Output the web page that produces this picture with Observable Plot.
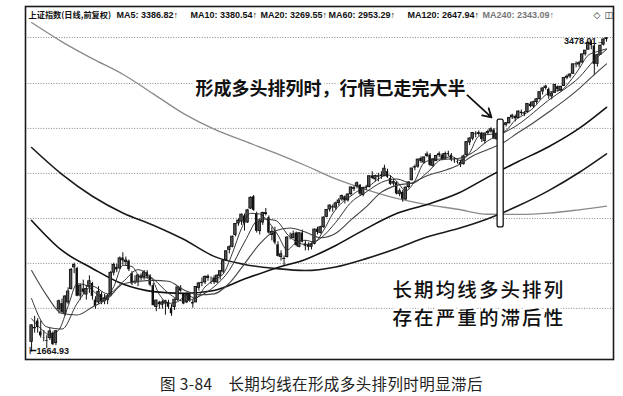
<!DOCTYPE html>
<html><head><meta charset="utf-8">
<script src="https://cdn.jsdelivr.net/npm/d3@7"></script>
<script src="https://cdn.jsdelivr.net/npm/@observablehq/plot@0.6"></script>
<style>
body{margin:0;background:#fff;}
#chart{width:623px;}
#chart svg{display:block;}
#chart g[font-size="19.5"] text{letter-spacing:2.1px;}
.caption{font-family:"Noto Sans CJK SC",sans-serif;font-size:15.5px;letter-spacing:0.4px;color:#222;margin-top:11px;padding-left:160px;line-height:20px;white-space:nowrap;}
</style></head><body>
<div id="chart"></div>
<div class="caption">图 3-84　长期均线在形成多头排列时明显滞后</div>
<script>
// 上证指数 日线（前复权）, 2008-10-28 … 2009-08-04, one entry per trading day
const open = [
1705,1760,1790,1745,
1720,1710,1720,1740,1700, 1840,1865,1820,1870,1930, 2030,2025,1900,1930,1905, 1940,1955,1880,1870,1905,
1875,1880,1900,2005,2030, 2025,2075,2055,2060,2000, 1960,1960,1990,1985,2005, 1990,1945,1850,1870,1860, 1865,1870,1845,
1850,1880,1935,1905,1870, 1905,1870,1870,1935,1960, 1960,1980,1975,1980,1960,
1990,2010,2065,2115,2130, 2190,2250,2260,2290,2255, 2330,2395,2300,2210,2255, 2300,2280,2190,2210,2140,
2080,2070,2080,2185,2175, 2200,2130,2200,2145,2140, 2130,2145,2220,2200,2230, 2285,2325,2340,2335,2360, 2380,2395,
2375,2410,2440,2455,2460, 2405,2450,2450,2515,2495, 2510,2520,2515,2540,2500, 2470,2475,2410,2420,2380, 2450,
2490,2565,2570,2620,2595, 2635,2640,2575,2605,2640, 2640,2620,2650,2640,2610, 2600,2595,2585,
2640,2720,2745,2775,2775, 2780,2730,2780,2790,2800, 2740,2775,2790,2835,2845, 2885,2890,2880,2920,2910, 2920,2975,
2960,2990,3010,3065,3090, 3080,3030,3055,3100,3075, 3105,3165,3175,3195,3270, 3265,3280,3345,3380,3440, 3410,3270,3340,
3420,3465];
const high = [
1775,1810,1800,1790,
1750,1730,1760,1745,1750, 1880,1885,1900,1935,2025, 2050,2030,1950,1970,1945, 1990,1960,1895,1940,1915,
1905,1905,2010,2050,2045, 2080,2100.8,2080,2065,2010, 1990,1995,2000,2015,2015, 1995,1955,1880,1875,1880, 1880,1880,1860,
1885,1940,1945,1910,1910, 1915,1880,1940,1960,1980, 1990,1995,1985,1990,1995,
2015,2065,2110,2135,2185, 2250,2275,2300,2300,2325, 2395,2402,2310,2270,2310, 2330,2290,2230,2230,2155,
2110,2085,2180,2200,2210, 2205,2200,2215,2160,2150, 2150,2220,2230,2235,2285, 2325,2350,2350,2365,2385, 2405,2400,
2410,2450,2455,2480,2465, 2450,2460,2515,2540,2520, 2530,2540,2579,2555,2515, 2495,2480,2440,2430,2450, 2480,
2560,2580,2615,2630,2630, 2660,2650,2620,2640,2660, 2650,2660,2665,2650,2625, 2615,2610,2640,
2725,2750,2785,2790,2795, 2785,2780,2800,2815,2810, 2780,2800,2840,2850,2885, 2905,2900,2930,2935,2925, 2980,2990,
2995,3015,3060,3090,3110, 3090,3060,3115,3105,3100, 3165,3185,3195,3270,3285, 3290,3345,3375,3440,3455, 3425,3345,3415,
3465,3478.01];
const low = [
1664.93,1740,1740,1720,
1705,1678,1710,1690,1690, 1820,1820,1810,1860,1925, 2000,1895,1880,1905,1880, 1910,1880,1840,1860,1860,
1860,1860,1895,1990,2005, 2020,2040,2035,2010,1945, 1950,1940,1965,1970,1975, 1940,1855,1830,1840,1840, 1815,1840,1810,
1835,1875,1915,1860,1865, 1870,1845,1870,1920,1940, 1950,1965,1950,1950,1955,
1970,2000,2060,2095,2125, 2180,2235,2240,2210,2250, 2325,2315,2200,2190,2240, 2290,2195,2160,2140,2080,
2060,2037,2075,2165,2170, 2130,2125,2150,2110,2110, 2115,2140,2190,2195,2225, 2280,2310,2310,2320,2345, 2370,2355,
2365,2400,2425,2440,2400, 2395,2430,2445,2495,2480, 2480,2495,2510,2500,2460, 2455,2405,2395,2365,2375, 2440,
2485,2545,2560,2590,2585, 2625,2570,2565,2600,2625, 2605,2610,2630,2600,2590, 2585,2565,2580,
2635,2700,2730,2750,2760, 2720,2710,2770,2780,2740, 2735,2765,2785,2820,2840, 2870,2855,2875,2895,2890, 2915,2950,
2945,2975,3005,3040,3075, 3010,3005,3050,3060,3060, 3100,3150,3160,3190,3240, 3240,3275,3330,3375,3380, 3180,3245,3335,
3410,3440];
const close = [
1772,1762,1763,1729,
1719,1707,1747,1694,1748, 1875,1827,1896,1918,2018, 2041,1897,1945,1915,1930, 1965,1897,1852,1917,1871,
1888,1897,2004,2042,2018, 2073,2061,2063,2019,1953, 1963,1992,1979,2006,1985, 1947,1856,1878,1860,1870, 1875,1849,1821,
1882,1937,1920,1863,1904, 1878,1863,1939,1955,1954, 1985,1986,1975,1959,1991,
2012,2060,2108,2128,2181, 2247,2265,2297,2248,2320, 2389,2320,2209,2261,2306, 2305,2200,2206,2150,2083,
2093,2071,2177,2184,2193, 2137,2199,2153,2133,2128, 2140,2218,2203,2230,2281, 2322,2346,2333,2358,2374, 2399,2373,
2408,2448,2444,2472,2410, 2444,2444,2513,2500,2514, 2513,2511,2558,2507,2466, 2479,2411,2426,2381,2447, 2477,
2559,2567,2613,2601,2626, 2645,2578,2614,2635,2646, 2614,2648,2644,2610,2606, 2597,2578,2632,
2722,2745,2781,2770,2780, 2739,2777,2787,2805,2742, 2776,2791,2834,2845,2880, 2896,2875,2924,2911,2913, 2977,2959,
2989,3009,3060,3087,3100, 3033,3050,3113,3077,3099, 3163,3173,3189,3266,3262, 3275,3343,3372,3435,3413, 3266,3337,3412,
3462,3471];

// moving averages at the listed trading-day positions
const ma5Days = [0,3,6,9,12,15,18,21,24,27,30,33,36,39,42,45,48,51,54,57,60,63,66,69,72,75,78,81,84,87,90,93,96,99,102,105,108,111,114,117,120,123,126,129,132,135,138,141,144,147,150,153,156,159,162,165,168,171,174,177,180,183,186,189];
const ma5 = [1800,1759,1733,1754,1853,1954,1946,1912,1885,1940,2040,2034,1981,1982,1905,1866,1873,1901,1889,1939,1972,1999,2098,2224,2304,2300,2256,2189,2115,2152,2163,2154,2214,2302,2362,2400,2436,2457,2497,2521,2484,2429,2486,2593,2613,2617,2632,2607,2655,2760,2771,2777,2798,2866,2904,2950,3021,3066,3074,3140,3233,3337,3365,3387];
const ma10Days = [0,5,10,15,20,25,30,35,40,45,50,55,60,65,70,75,80,85,90,95,100,105,110,115,120,125,130,135,140,145,150,155,160,165,170,175,180,185,189];
const ma10 = [1887,1766,1757,1866,1942,1908,1962,2019,1976,1911,1876,1896,1940,2016,2154,2274,2267,2178,2142,2173,2256,2364,2422,2477,2497,2471,2534,2614,2619,2656,2731,2780,2837,2917,3004,3079,3167,3299,3381];
const ma20Days = [0,5,10,15,20,25,30,35,40,45,50,55,60,65,70,75,80,85,90,95,100,105,110,115,120,125,130,135,140,145,150,155,160,165,170,175,180,185,189];
const ma20 = [2015,1900,1822,1816,1850,1887,1952,1964,1969,1965,1926,1904,1908,1956,2047,2145,2211,2226,2205,2176,2199,2269,2339,2421,2460,2474,2516,2543,2577,2635,2675,2718,2784,2849,2921,2998,3086,3189,3270];
const longDays = [0,10,20,30,40,50,60,70,80,90,100,110,120,130,140,150,160,170,180,189];
const ma60 = [2266,2112,2025,1952,1918,1910,1923,1975,2025,2068,2137,2223,2303,2352,2413,2508,2601,2693,2811,2953];
const ma120 = [2688,2524,2398,2306,2241,2168,2083,2044,2025,2015,2032,2072,2122,2180,2222,2275,2345,2430,2535,2648];
const ma240 = [3602,3443,3310,3191,3048,2910,2806,2728,2654,2577,2497,2436,2386,2352,2326,2299,2298,2305,2323,2343];

const gridValues = [3478,3123,2811,2530,2276,2049,1844];
const titleLabel = "上证指数(日线,前复权)";
const maLabels = ["MA5: 3386.82↑","MA10: 3380.54↑","MA20: 3269.55↑","MA60: 2953.29↑","MA120: 2647.94↑","MA240: 2343.09↑"];
const noteTop = "形成多头排列时，行情已走完大半";
const noteBottom = ["长期均线多头排列","存在严重的滞后性"];

// ---- build tables ----
const candles = close.map((c, i) => ({i, open: open[i], high: high[i], low: low[i], close: c}));
const series = (days, vals) => days.map((d, k) => ({i: d, v: vals[k]}));
const hiIdx = d3.maxIndex(high), loIdx = d3.minIndex(low);

const LAT = "'Liberation Sans', Arial, 'Noto Sans CJK SC', sans-serif";
const CJK = "'Noto Sans CJK SC', sans-serif";
const maX = [116,190,260,328,407,482];
const maFill = ["#111","#111","#111","#111","#111","#777"];

const marks = [
  Plot.ruleY(gridValues, {stroke: "#666", strokeWidth: 0.8, strokeDasharray: "1,1.6"}),
  Plot.line(series(longDays, ma240), {x: "i", y: "v", stroke: "#8a8a8a", strokeWidth: 1.3, curve: "monotone-x"}),
  Plot.line(series(longDays, ma120), {x: "i", y: "v", stroke: "#1a1a1a", strokeWidth: 1.6, curve: "monotone-x"}),
  Plot.line(series(longDays, ma60), {x: "i", y: "v", stroke: "#111", strokeWidth: 1.6, curve: "monotone-x"}),
  Plot.ruleX(candles, {x: "i", y1: "low", y2: "high", stroke: "#111", strokeWidth: 1}),
  Plot.rect(candles.filter(d => d.close < d.open), {x1: d => d.i - 0.4, x2: d => d.i + 0.4, y1: "open", y2: "close", fill: "#111"}),
  Plot.rect(candles.filter(d => d.close >= d.open), {x1: d => d.i - 0.4, x2: d => d.i + 0.4, y1: "open", y2: "close", fill: "#555", stroke: "#111", strokeWidth: 0.9}),
  Plot.line(series(ma20Days, ma20), {x: "i", y: "v", stroke: "#444", strokeWidth: 1.1, curve: "monotone-x"}),
  Plot.line(series(ma10Days, ma10), {x: "i", y: "v", stroke: "#333", strokeWidth: 1, curve: "monotone-x"}),
  Plot.line(series(ma5Days, ma5), {x: "i", y: "v", stroke: "#222", strokeWidth: 0.9, curve: "monotone-x"}),
  // highlight bar where the long averages line up
  Plot.rect([0], {x1: 153.2, x2: 155.2, y1: 2229, y2: 2870, fill: "white", stroke: "#111", strokeWidth: 1.3, rx: 2}),
  Plot.arrow([0], {x1: 142.7, y1: 3050, x2: 151.2, y2: 2884, stroke: "#111", strokeWidth: 1.8, headLength: 8}),
  Plot.text([noteTop], {frameAnchor: "top-left", dx: 170, dy: 76, textAnchor: "start", fontSize: 18, fontWeight: 700, fontFamily: CJK, fill: "#111", stroke: "white", strokeWidth: 7, paintOrder: "stroke"}),
  Plot.text([noteBottom.join("\n")], {frameAnchor: "top-left", dx: 367, dy: 295.3, textAnchor: "start", lineAnchor: "middle", lineHeight: 1.455, fontSize: 19.5, fontWeight: 500, fontFamily: CJK, fill: "#111", stroke: "white", strokeWidth: 5, paintOrder: "stroke"}),
  // extreme labels
  Plot.text([candles[hiIdx]], {x: "i", y: "high", text: d => d.high.toFixed(2) + "→", textAnchor: "end", dx: -1, dy: 4, fontSize: 9, fontWeight: 700, fontFamily: LAT, fill: "#111"}),
  Plot.text([candles[loIdx]], {x: "i", y: "low", text: d => "⊢" + d.low.toFixed(2), textAnchor: "start", dx: -3, dy: -1, fontSize: 9, fontWeight: 700, fontFamily: LAT, fill: "#111"}),
  // header
  Plot.text([titleLabel], {frameAnchor: "top-left", dx: 3, dy: 5.5, textAnchor: "start", fontSize: 8.2, fontWeight: 700, fontFamily: CJK, fill: "#111"}),
  ...maLabels.map((t, k) => Plot.text([t], {frameAnchor: "top-left", dx: maX[k] - 25, dy: 5.5, textAnchor: "start", fontSize: 9, fontWeight: 700, fontFamily: LAT, fill: maFill[k]})),
  Plot.text(["◇"], {frameAnchor: "top-left", dx: 568, dy: 5.5, textAnchor: "start", fontSize: 9, fontFamily: "'DejaVu Sans', sans-serif", fill: "#222"}),
  Plot.text(["◫"], {frameAnchor: "top-left", dx: 579, dy: 5.5, textAnchor: "start", fontSize: 9, fontFamily: "'DejaVu Sans', sans-serif", fill: "#222"}),
  Plot.frame({stroke: "#1a1a1a", strokeWidth: 1.6})
];

const chart = Plot.plot({
  width: 623, height: 362,
  marginLeft: 25, marginRight: 10, marginTop: 6, marginBottom: 3,
  x: {domain: [-2, 191.3], axis: null},
  y: {type: "log", domain: [1636, 3740], axis: null},
  style: {background: "white", overflow: "visible"},
  marks
});
document.getElementById("chart").appendChild(chart);
</script></body></html>
